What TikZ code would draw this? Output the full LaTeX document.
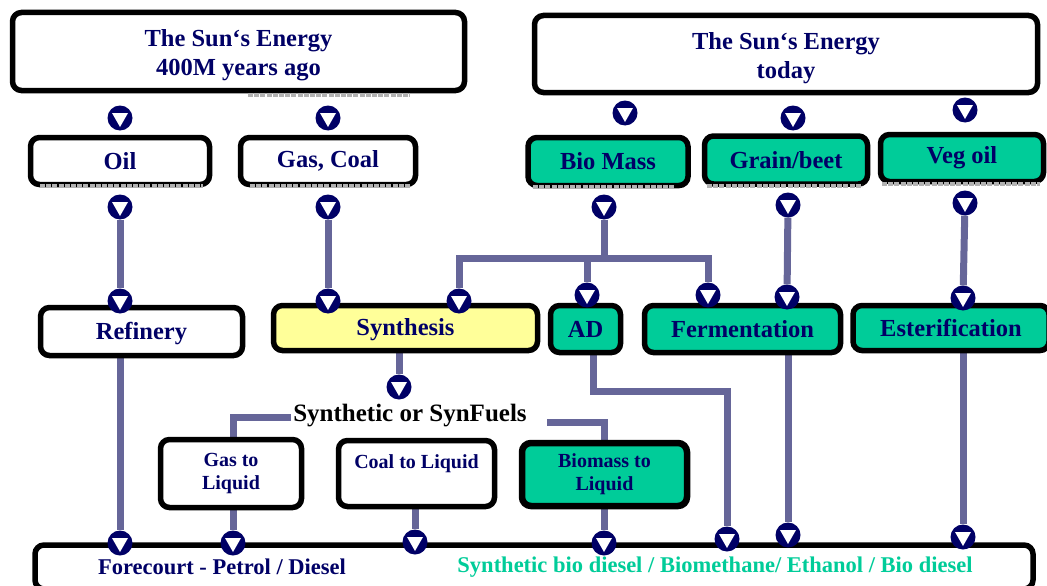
\documentclass[tikz,border=0pt]{standalone}
\usepackage{fontspec}
\setmainfont{Liberation Serif}
\definecolor{navy}{HTML}{000066}
\definecolor{bgreen}{HTML}{00CC99}
\definecolor{conncol}{HTML}{666699}
\definecolor{yel}{HTML}{FFFF99}
\pgfdeclarelayer{bg}
\pgfsetlayers{bg,main}
\tikzset{
 box/.style={draw=black, line width=5.5pt, rounded corners=9pt, fill=white, text=navy,
   font=\bfseries\fontsize{24.5}{29}\selectfont, align=center, inner sep=0pt},
 gbox/.style={box, fill=bgreen},
 ybox/.style={box, fill=yel},
 smalltxt/.style={font=\bfseries\fontsize{20}{23}\selectfont},
 mk/.style={circle, fill=navy, minimum size=25pt, inner sep=0pt,
   path picture={\fill[white] ([shift={(-8pt,5pt)}]path picture bounding box.center)
     -- ++(16pt,0pt) -- ++(-8pt,-14pt) -- cycle;}},
 cn/.style={draw=conncol, line width=7pt},
 shade/.style={draw=gray!60, line width=4pt, dash pattern=on 5pt off 1.2pt},
 lbl/.style={inner sep=1pt, font=\bfseries\fontsize{22.5}{26}\selectfont},
}
\begin{document}
\begin{tikzpicture}[x=1pt,y=-1pt]
\useasboundingbox (0,0) rectangle (1047,586);
% boxes
\node[box, minimum width=452, minimum height=78] (sun1) at (238.5,51.5) {\rule{0pt}{25pt}The Sun‘s Energy\\400M years ago};
\node[box, minimum width=503, minimum height=77] (sun2) at (786,54) {\rule{0pt}{25pt}The Sun‘s Energy\\today};
\node[box, minimum width=179, minimum height=47] (oil) at (120,161) {Oil};
\node[box, minimum width=175, minimum height=47] (gascoal) at (328,161) {Gas, Coal};
\node[gbox, minimum width=160, minimum height=48] (biomass) at (608,161.5) {Bio Mass};
\node[gbox, minimum width=163, minimum height=48] (grain) at (786,160) {Grain/beet};
\node[gbox, minimum width=163, minimum height=47] (vegoil) at (962,158) {Veg oil};
\node[box, minimum width=202, minimum height=48] (refinery) at (141.5,331.5) {\rule{0pt}{21pt}Refinery};
\node[ybox, minimum width=264, minimum height=45] (synthesis) at (405.5,328) {\rule{0pt}{21pt}Synthesis};
\node[gbox, minimum width=70, minimum height=47] (ad) at (585.5,329) {AD};
\node[gbox, minimum width=196, minimum height=47] (ferm) at (742.5,329) {Fermentation};
\node[gbox, minimum width=196, minimum height=45] (ester) at (951,328) {Esterification};
\node[box, smalltxt, minimum width=141, minimum height=68] (gtl) at (231,473.5) {Gas to\\Liquid};
\node[box, smalltxt, minimum width=156, minimum height=66] (ctl) at (416.5,473.5) {Coal to Liquid\\ \phantom{L}};
\node[gbox, smalltxt, line width=6.5pt, minimum width=165, minimum height=63] (btl) at (604.5,474.5) {Biomass to\\Liquid};
\node[box, minimum width=998, minimum height=44] (bottom) at (534,567) {};
\node[lbl, text=navy] (fore) at (222,567) {Forecourt - Petrol / Diesel};
\node[lbl, text=bgreen] (synbio) at (715,567) {Synthetic bio diesel / Biomethane/ Ethanol / Bio diesel};
\node[inner sep=1pt, font=\bfseries\fontsize{25}{29}\selectfont] (syn) at (410,416) {Synthetic or SynFuels};
% shadow strips
\draw[shade] (248,95) -- (410,95);
\draw[shade] (40,186) -- (203,186);
\draw[shade] (250,186) -- (410,186);
\draw[shade] (533,187) -- (675,187);
\draw[shade] (707,186) -- (862,186);
\draw[shade] (882,183.5) -- (1040,183.5);
% markers
\node[mk] (m1) at (120,118) {};
\node[mk] (m2) at (328,118) {};
\node[mk] (m3) at (625,113) {};
\node[mk] (m4) at (793,118) {};
\node[mk] (m5) at (965,110) {};
\node[mk] (m6) at (120,207) {};
\node[mk] (m7) at (328,207) {};
\node[mk] (m8) at (604,207) {};
\node[mk] (m9) at (788,205) {};
\node[mk] (m10) at (965,203) {};
\node[mk] (m11) at (120,301) {};
\node[mk] (m12) at (328,301) {};
\node[mk] (m13) at (459,301) {};
\node[mk] (m14) at (587,295) {};
\node[mk] (m15) at (708,295) {};
\node[mk] (m16) at (787,297) {};
\node[mk] (m17) at (963,298) {};
\node[mk] (m18) at (399,387) {};
\node[mk] (b1) at (120,543) {};
\node[mk] (b2) at (233,543) {};
\node[mk] (b3) at (415,542) {};
\node[mk] (b4) at (604,543) {};
\node[mk] (b5) at (727,539) {};
\node[mk] (b6) at (788,535) {};
\node[mk] (b7) at (963,537) {};
\coordinate (fork) at (604,258);
\coordinate (sl) at (291,417);
\coordinate (sr) at (547,422);
% connectors
\begin{pgfonlayer}{bg}
\draw[cn] (m6) -- (m11);
\draw[cn] (m7) -- (m12);
\draw[cn] (m8) -- (fork);
\draw[cn] (m13) -- (m13 |- fork) -- (m15 |- fork) -- (m15);
\draw[cn] (m14 |- fork) -- (m14);
\draw[cn] (m9) -- (m16);
\draw[cn] (m10) -- (m17);
\draw[cn] (refinery.south -| b1) -- (b1);
\draw[cn] (synthesis.south -| m18) -- (m18);
\draw[cn] (sl) -| (gtl.north -| b2);
\draw[cn] (sr) -| (btl.north -| b4);
\draw[cn] (gtl.south -| b2) -- (b2);
\draw[cn] (ctl.south -| b3) -- (b3);
\draw[cn] (btl.south -| b4) -- (b4);
\draw[cn] ([xshift=7.5pt]ad.south) -- ++(0,36) -| (b5);
\draw[cn] (ferm.south -| b6) -- (b6);
\draw[cn] (ester.south -| b7) -- (b7);
\end{pgfonlayer}
\end{tikzpicture}
\end{document}
